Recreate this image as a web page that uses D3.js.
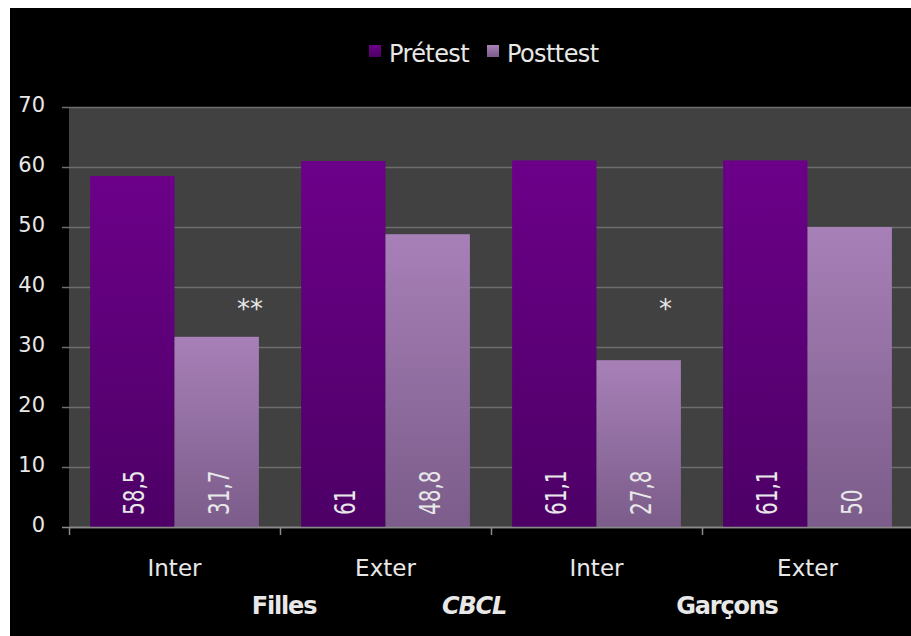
<!DOCTYPE html>
<html>
<head>
<meta charset="utf-8">
<script src="https://cdn.jsdelivr.net/npm/d3@7"></script>
<style>
  html, body { margin: 0; padding: 0; background: #fff; }
  svg { display: block; }
  text { font-family: "DejaVu Sans", sans-serif; fill: #e8e8e8; }
</style>
</head>
<body>
<script>
const width = 911, height = 636;

// data
const subgroups = ['Prétest', 'Posttest'];
const categories = ['Inter', 'Exter', 'Inter', 'Exter'];
const pretest = [58.5, 61, 61.1, 61.1];
const posttest = [31.7, 48.8, 27.8, 50];
const signif = ['**', '', '*', ''];
const groupLabels = ['Filles', 'CBCL', 'Garçons'];
const yTicks = [0, 10, 20, 30, 40, 50, 60, 70];
const sigLevel = 35;

const fr = d3.formatLocale({decimal: ',', thousands: ' ', grouping: [3], currency: ['', '€']});
const fmt = fr.format('~g');

const plotLeft = 69, plotRight = 913, plotTop = 107, plotBottom = 527;

let svg = d3.select('body').append('svg')
  .attr('width', width).attr('height', height);

// black slide background
svg.append('rect').attr('x', 10).attr('y', 8).attr('width', width - 10).attr('height', height - 8).attr('fill', '#000');

let defs = svg.append('defs');
let g1 = defs.append('linearGradient').attr('id', 'gPre').attr('x1', 0).attr('y1', 0).attr('x2', 0).attr('y2', 1);
g1.append('stop').attr('offset', '0%').attr('stop-color', '#6c0089');
g1.append('stop').attr('offset', '100%').attr('stop-color', '#4d0066');
let g2 = defs.append('linearGradient').attr('id', 'gPost').attr('x1', 0).attr('y1', 0).attr('x2', 0).attr('y2', 1);
g2.append('stop').attr('offset', '0%').attr('stop-color', '#a780b7');
g2.append('stop').attr('offset', '100%').attr('stop-color', '#7b5c8a');
const fills = {'Prétest': 'url(#gPre)', 'Posttest': 'url(#gPost)'};

let y = d3.scaleLinear().domain([0, 70]).range([plotBottom, plotTop]);
let x0 = d3.scaleBand().domain(d3.range(categories.length)).range([plotLeft, plotRight]).paddingInner(0.2).paddingOuter(0.1);
let x1 = d3.scaleBand().domain(subgroups).range([0, x0.bandwidth()]);
let xb = d3.scaleLinear().domain([0, categories.length]).range([plotLeft, plotRight]);

// plot area
svg.append('rect').attr('x', plotLeft).attr('y', plotTop)
  .attr('width', width - plotLeft).attr('height', plotBottom - plotTop).attr('fill', '#414141');

// gridlines + y labels
let yAxis = svg.append('g').attr('transform', `translate(${plotLeft},0)`)
  .call(d3.axisLeft(y).tickValues(yTicks).tickSize(-(width - plotLeft)).tickPadding(24))
  .call(g => g.select('.domain').remove());
yAxis.selectAll('.tick line').attr('x1', -7).attr('stroke', d => d === 0 ? '#8a8a8a' : '#6e6e6e').attr('stroke-width', 1.5);
yAxis.selectAll('.tick text').attr('font-size', 21).attr('dy', '0.2em').attr('fill', '#e8e8e8')
  .style('font-family', '"DejaVu Sans", sans-serif');

// bars
const rows = categories.map((c, i) => ({i, values: [{key: 'Prétest', v: pretest[i]}, {key: 'Posttest', v: posttest[i]}]}));
let grp = svg.append('g').selectAll('g').data(rows).enter().append('g')
  .attr('transform', d => `translate(${x0(d.i)},0)`);
grp.selectAll('rect').data(d => d.values).enter().append('rect')
  .attr('x', d => x1(d.key)).attr('width', x1.bandwidth())
  .attr('y', d => y(d.v)).attr('height', d => y(0) - y(d.v))
  .attr('fill', d => fills[d.key]);
grp.selectAll('text.val').data(d => d.values).enter().append('text')
  .attr('class', 'val')
  .attr('transform', d => `translate(${x1(d.key) + x1.bandwidth() / 2 + 2},${y(0) - 12}) rotate(-90) scale(1,1.4)`)
  .attr('dy', '0.36em')
  .attr('font-size', 20).attr('fill', '#f2f2f2')
  .text(d => fmt(d.v));

// significance stars
svg.append('g').selectAll('text').data(signif).enter().append('text')
  .attr('x', (d, i) => x0(i) + x1('Posttest') + x1.bandwidth() - 22)
  .attr('y', y(sigLevel) + 1)
  .attr('font-size', 26).attr('fill', '#dcdcdc')
  .text(d => d);

// x axis ticks
svg.append('g').attr('transform', `translate(0,${plotBottom})`)
  .call(d3.axisBottom(xb).tickValues(d3.range(categories.length + 1)).tickSize(8).tickSizeOuter(0).tickFormat(''))
  .call(g => g.select('.domain').attr('stroke', '#8a8a8a').attr('stroke-width', 1.5))
  .call(g => g.selectAll('.tick line').attr('stroke', '#8a8a8a').attr('stroke-width', 1.5));

// category labels
svg.append('g').attr('transform', `translate(0,${plotBottom})`)
  .call(d3.axisBottom(x0).tickSize(0).tickPadding(33).tickFormat(i => categories[i]))
  .call(g => g.select('.domain').remove())
  .call(g => g.selectAll('text').attr('font-size', 23).attr('fill', '#e8e8e8')
    .style('font-family', '"DejaVu Sans", sans-serif'));

// group labels
const groupDx = [4, -17, 25];
svg.append('g').selectAll('text').data(groupLabels).enter().append('text')
  .attr('x', (d, i) => xb(i + 1) + groupDx[i])
  .attr('y', 614)
  .attr('text-anchor', 'middle')
  .attr('font-size', 24).attr('font-weight', 'bold')
  .attr('font-style', (d, i) => i === 1 ? 'italic' : 'normal')
  .attr('letter-spacing', -1.2)
  .attr('fill', '#fff')
  .text(d => d);

// legend
const legX = [369, 487];
let leg = svg.append('g').selectAll('g').data(subgroups).enter().append('g')
  .attr('transform', (d, i) => `translate(${legX[i]},45)`);
leg.append('rect').attr('width', 12).attr('height', 12).attr('fill', d => fills[d]);
leg.append('text').attr('x', 20).attr('y', 17).attr('font-size', 24).attr('letter-spacing', -0.6)
  .attr('fill', '#e6e6e6').text(d => d);
</script>
</body>
</html>
